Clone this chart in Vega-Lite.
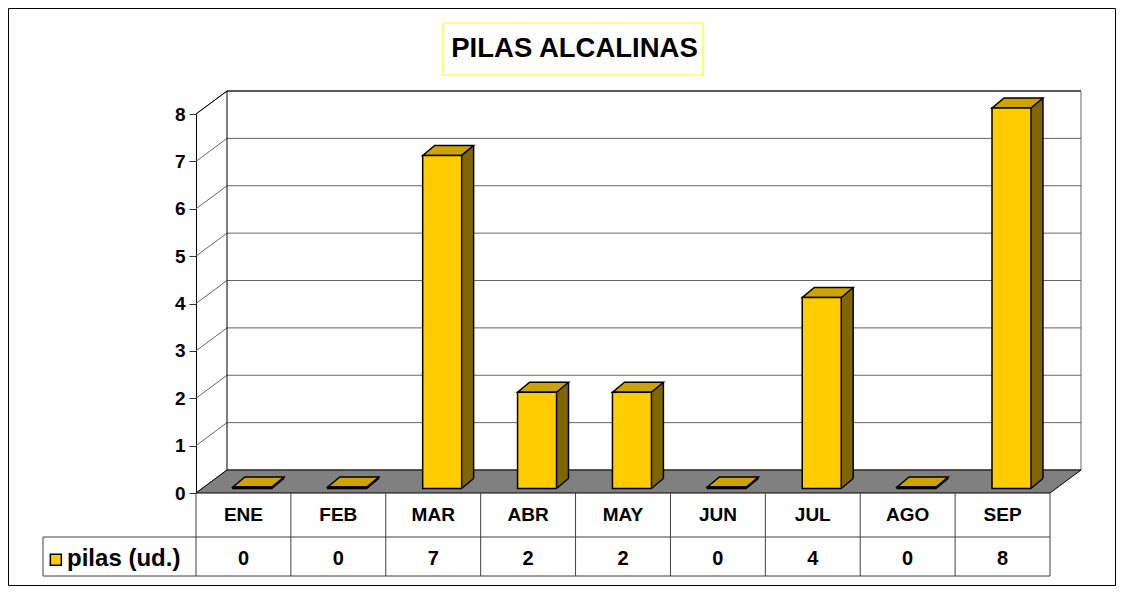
{
  "$schema": "https://vega.github.io/schema/vega-lite/v6.json",
  "width": 1107,
  "height": 577,
  "autosize": {"type": "none"},
  "padding": {"left": 8, "top": 8, "right": 8, "bottom": 7},
  "background": "#ffffff",
  "config": {
    "view": {"stroke": "#000000", "strokeWidth": 1},
    "font": "Liberation Sans",
    "axisX": {"disable": true}
  },
  "datasets": {
    "meses": [
      {"mes": "ENE", "pilas": 0},
      {"mes": "FEB", "pilas": 0},
      {"mes": "MAR", "pilas": 7},
      {"mes": "ABR", "pilas": 2},
      {"mes": "MAY", "pilas": 2},
      {"mes": "JUN", "pilas": 0},
      {"mes": "JUL", "pilas": 4},
      {"mes": "AGO", "pilas": 0},
      {"mes": "SEP", "pilas": 8}
    ],
    "ticks": [{"v": 0}, {"v": 1}, {"v": 2}, {"v": 3}, {"v": 4}, {"v": 5}, {"v": 6}, {"v": 7}, {"v": 8}],
    "uno": [{"k": 1}]
  },
  "data": {"name": "meses"},
  "layer": [
    {
      "data": {"name": "ticks"},
      "mark": {"type": "rule", "color": "#666666", "strokeWidth": 1, "xOffset": -16.44, "x2Offset": 78.44, "yOffset": -23},
      "encoding": {
        "x": {"datum": "ENE", "type": "nominal", "scale": {"type": "band", "domain": ["ENE", "FEB", "MAR", "ABR", "MAY", "JUN", "JUL", "AGO", "SEP"], "range": [188, 1042], "paddingInner": 0, "paddingOuter": 0}, "axis": null},
        "x2": {"datum": "SEP"},
        "y": {"field": "v", "type": "quantitative", "title": null,
          "scale": {"domain": [0, 8], "range": [485, 106], "nice": false, "zero": false},
          "axis": {"orient": "left", "offset": -188, "values": [0, 1, 2, 3, 4, 5, 6, 7, 8], "format": "d", "title": null, "grid": false,
            "domainColor": "#000000", "domainWidth": 1, "tickColor": "#333333", "tickSize": 7, "tickWidth": 1,
            "labelFont": "Liberation Sans", "labelFontSize": 19, "labelFontWeight": "bold", "labelColor": "#000000", "labelPadding": 4}}
      }
    },
    {
      "data": {"name": "ticks"},
      "mark": {"type": "rule", "color": "#666666", "strokeWidth": 1, "xOffset": -47.44, "x2Offset": -16.44, "y2Offset": -23},
      "encoding": {
        "x": {"datum": "ENE"},
        "x2": {"datum": "ENE"},
        "y": {"field": "v", "type": "quantitative", "title": null},
        "y2": {"field": "v"}
      }
    },
    {
      "data": {"name": "uno"},
      "mark": {"type": "rule", "color": "#000000", "strokeWidth": 1, "xOffset": -47.44, "x2Offset": -16.44, "y2Offset": -23},
      "encoding": {"x": {"datum": "ENE"}, "x2": {"datum": "ENE"}, "y": {"datum": 8}, "y2": {"datum": 8}}
    },
    {
      "data": {"name": "uno"},
      "mark": {"type": "rule", "color": "#000000", "strokeWidth": 1, "xOffset": -16.44, "x2Offset": 78.44, "yOffset": -23},
      "encoding": {"x": {"datum": "ENE"}, "x2": {"datum": "SEP"}, "y": {"datum": 8}}
    },
    {
      "data": {"name": "uno"},
      "mark": {"type": "rule", "color": "#000000", "strokeWidth": 1, "xOffset": -16.44, "yOffset": -23, "y2Offset": -23},
      "encoding": {"x": {"datum": "ENE"}, "y": {"datum": 0}, "y2": {"datum": 8}}
    },
    {
      "data": {"name": "uno"},
      "mark": {"type": "rule", "color": "#666666", "strokeWidth": 1, "xOffset": 78.44, "yOffset": -23, "y2Offset": -23},
      "encoding": {"x": {"datum": "SEP"}, "y": {"datum": 0}, "y2": {"datum": 8}}
    },
    {
      "data": {"name": "uno"},
      "mark": {"type": "point", "shape": "M-47.44,0L806.56,0L837.56,-23L-16.44,-23Z", "size": 4, "filled": true, "fill": "#808080", "stroke": "#000000", "strokeWidth": 1, "opacity": 1},
      "encoding": {"x": {"datum": "ENE"}, "y": {"datum": 0}}
    },
    {
      "mark": {"type": "bar", "width": 12, "xOffset": 34.4, "yOffset": -16, "y2Offset": -4.5, "fill": "#806600", "strokeWidth": 0},
      "encoding": {
        "x": {"field": "mes", "type": "nominal", "axis": null},
        "y": {"field": "pilas", "type": "quantitative", "title": null},
        "y2": {"datum": 0}
      }
    },
    {
      "mark": {"type": "point", "shape": "M-10.5,-6L28.4,-6L40.4,-16L1.5,-16Z", "size": 4, "filled": true, "fill": "#CCA300", "stroke": "#000000", "strokeWidth": 1.5, "opacity": 1},
      "encoding": {
        "x": {"field": "mes", "type": "nominal", "axis": null},
        "y": {"field": "pilas", "type": "quantitative", "title": null}
      }
    },
    {
      "mark": {"type": "bar", "width": 39, "xOffset": 8.95, "yOffset": -6, "y2Offset": -4.5, "fill": "#FFCC00", "stroke": "#000000", "strokeWidth": 1.5},
      "encoding": {
        "x": {"field": "mes", "type": "nominal", "axis": null},
        "y": {"field": "pilas", "type": "quantitative", "title": null},
        "y2": {"datum": 0}
      }
    },
    {
      "mark": {"type": "point", "shape": "M28.4,-4.5L40.4,-14.5L41.5,-14.5L41.5,-3.5L28.4,-3.5Z", "size": 4, "filled": true, "fill": "#808080", "strokeWidth": 0, "opacity": 1},
      "encoding": {
        "x": {"field": "mes", "type": "nominal", "axis": null},
        "y": {"datum": 0}
      }
    },
    {
      "mark": {"type": "rule", "color": "#000000", "strokeWidth": 1.5, "xOffset": 40.4, "yOffset": -16, "y2Offset": -14.5},
      "encoding": {
        "x": {"field": "mes", "type": "nominal", "axis": null},
        "y": {"field": "pilas", "type": "quantitative", "title": null},
        "y2": {"datum": 0}
      }
    },
    {
      "mark": {"type": "rule", "color": "#000000", "strokeWidth": 1.5, "xOffset": 28.4, "x2Offset": 40.4, "yOffset": -4.5, "y2Offset": -14.5},
      "encoding": {
        "x": {"field": "mes", "type": "nominal", "axis": null},
        "x2": {"field": "mes"},
        "y": {"datum": 0},
        "y2": {"datum": 0}
      }
    },
    {
      "mark": {"type": "rule", "color": "#404040", "strokeWidth": 1, "xOffset": 47.44, "y2Offset": 83},
      "encoding": {
        "x": {"field": "mes", "type": "nominal", "axis": null},
        "y": {"datum": 0},
        "y2": {"datum": 0}
      }
    },
    {
      "data": {"name": "uno"},
      "mark": {"type": "rule", "color": "#404040", "strokeWidth": 1, "xOffset": -47.44, "y2Offset": 83},
      "encoding": {"x": {"datum": "ENE"}, "y": {"datum": 0}, "y2": {"datum": 0}}
    },
    {
      "data": {"name": "uno"},
      "mark": {"type": "rule", "color": "#404040", "strokeWidth": 1, "xOffset": -200.44, "yOffset": 44, "y2Offset": 83},
      "encoding": {"x": {"datum": "ENE"}, "y": {"datum": 0}, "y2": {"datum": 0}}
    },
    {
      "data": {"name": "uno"},
      "mark": {"type": "rule", "color": "#404040", "strokeWidth": 1, "xOffset": -200.44, "x2Offset": 47.44, "yOffset": 44},
      "encoding": {"x": {"datum": "ENE"}, "x2": {"datum": "SEP"}, "y": {"datum": 0}}
    },
    {
      "data": {"name": "uno"},
      "mark": {"type": "rule", "color": "#404040", "strokeWidth": 1, "xOffset": -200.44, "x2Offset": 47.44, "yOffset": 83},
      "encoding": {"x": {"datum": "ENE"}, "x2": {"datum": "SEP"}, "y": {"datum": 0}}
    },
    {
      "mark": {"type": "text", "font": "Liberation Sans", "fontSize": 19, "fontWeight": "bold", "color": "#000000", "dy": 22, "baseline": "middle", "align": "center"},
      "encoding": {
        "x": {"field": "mes", "type": "nominal", "axis": null},
        "y": {"datum": 0},
        "text": {"field": "mes"}
      }
    },
    {
      "mark": {"type": "text", "font": "Liberation Sans", "fontSize": 20, "fontWeight": "bold", "color": "#000000", "dy": 66, "baseline": "middle", "align": "center"},
      "encoding": {
        "x": {"field": "mes", "type": "nominal", "axis": null},
        "y": {"datum": 0},
        "text": {"field": "pilas", "type": "quantitative"}
      }
    },
    {
      "data": {"name": "uno"},
      "mark": {"type": "point", "shape": "square", "size": 121, "filled": true, "fill": "#FFCC00", "stroke": "#000000", "strokeWidth": 1.5, "opacity": 1, "xOffset": -187.6, "yOffset": 66.7},
      "encoding": {"x": {"datum": "ENE"}, "y": {"datum": 0}}
    },
    {
      "data": {"name": "uno"},
      "mark": {"type": "text", "font": "Liberation Sans", "fontSize": 24, "fontWeight": "bold", "color": "#000000", "dx": -176.4, "dy": 66, "baseline": "middle", "align": "left"},
      "encoding": {"x": {"datum": "ENE"}, "y": {"datum": 0}, "text": {"value": "pilas (ud.)"}}
    },
    {
      "data": {"name": "uno"},
      "mark": {"type": "point", "shape": "M-85.1,-91H174.9V-39H-85.1Z", "size": 4, "filled": false, "stroke": "#FFFF00", "strokeWidth": 1.2, "opacity": 1},
      "encoding": {"x": {"datum": "ABR"}, "y": {"datum": 8}}
    },
    {
      "data": {"name": "uno"},
      "mark": {"type": "text", "font": "Liberation Sans", "fontSize": 27.5, "fontWeight": "bold", "color": "#000000", "dx": 46.4, "dy": -65.5, "baseline": "middle", "align": "center"},
      "encoding": {"x": {"datum": "ABR"}, "y": {"datum": 8}, "text": {"value": "PILAS ALCALINAS"}}
    }
  ]
}
